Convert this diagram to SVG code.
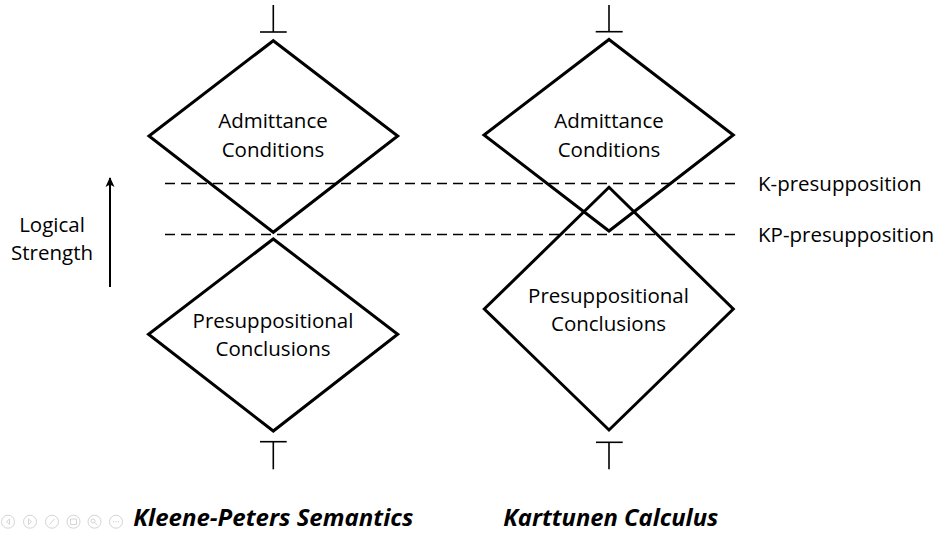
<svg xmlns="http://www.w3.org/2000/svg" width="936" height="541" viewBox="0 0 936 541">
<style>
.dia{fill:none;stroke:#000;stroke-width:3;stroke-linejoin:miter}
.sym{stroke:#000;stroke-width:1.6;fill:none}
.dash{stroke:#000;stroke-width:1.7;stroke-dasharray:10 6;fill:none}
.lbl{font-family:"Open Sans","Noto Sans",sans-serif;font-size:20.5px;fill:#000}
.mid{text-anchor:middle}
.ttl{font-family:"Open Sans","Noto Sans",sans-serif;font-size:24px;font-weight:bold;font-style:italic;fill:#000}
.ui{fill:none;stroke:#d4d4d4;stroke-width:1}
</style>
<defs>
<marker id="ah" markerWidth="10" markerHeight="10" viewBox="0 0 10 10" refX="9" refY="5" orient="auto" markerUnits="userSpaceOnUse">
<path d="M0,0.5 L10,5 L0,9.5 L2.5,5 Z" fill="#000"/>
</marker>
</defs>
<rect width="936" height="541" fill="#fff"/>

<g id="connectors">
<line class="dash" x1="165" y1="183.5" x2="740" y2="183.5"/>
<line class="dash" x1="165" y1="234.5" x2="740" y2="234.5"/>
<line x1="110" y1="287" x2="110" y2="178" stroke="#000" stroke-width="2" marker-end="url(#ah)"/>
</g>

<g id="left-bottom-sym">
<line class="sym" x1="273.3" y1="5" x2="273.3" y2="32"/>
<line class="sym" x1="260" y1="32" x2="286.7" y2="32"/>
</g>
<g id="left-admittance">
<polygon class="dia" points="273.3,40.7 397.7,136 273.3,232.3 149,136"/>
<text class="lbl mid" x="273" y="128.3">Admittance</text>
<text class="lbl mid" x="273" y="156.7">Conditions</text>
</g>
<g id="left-presuppositional">
<polygon class="dia" points="273.3,239 397.7,334.3 273.3,431 148.5,334.3"/>
<text class="lbl mid" x="273" y="327.7">Presuppositional</text>
<text class="lbl mid" x="273" y="356">Conclusions</text>
</g>
<g id="left-top-sym">
<line class="sym" x1="260" y1="441.7" x2="286.7" y2="441.7"/>
<line class="sym" x1="273.3" y1="441.7" x2="273.3" y2="469.3"/>
</g>

<g id="right-bottom-sym">
<line class="sym" x1="609" y1="5" x2="609" y2="31.7"/>
<line class="sym" x1="595.7" y1="31.7" x2="622.7" y2="31.7"/>
</g>
<g id="right-admittance">
<polygon class="dia" points="609,39.5 733.3,135 609,231 484,135"/>
<text class="lbl mid" x="609" y="128.3">Admittance</text>
<text class="lbl mid" x="609" y="156.7">Conditions</text>
</g>
<g id="right-presuppositional">
<polygon class="dia" points="609,187.3 733.3,309 609,430 484.3,309"/>
<text class="lbl mid" x="608.5" y="302.7">Presuppositional</text>
<text class="lbl mid" x="608.5" y="330.7">Conclusions</text>
</g>
<g id="right-top-sym">
<line class="sym" x1="596" y1="442.3" x2="622.7" y2="442.3"/>
<line class="sym" x1="609" y1="442.3" x2="609" y2="469.3"/>
</g>

<g id="line-labels">
<text class="lbl" x="758" y="191">K-presupposition</text>
<text class="lbl" x="758" y="241.5">KP-presupposition</text>
</g>
<g id="axis-label">
<text class="lbl mid" x="52" y="231.7">Logical</text>
<text class="lbl mid" x="52" y="260">Strength</text>
</g>
<g id="titles">
<text class="ttl" x="133.3" y="526" textLength="280" lengthAdjust="spacingAndGlyphs">Kleene-Peters Semantics</text>
<text class="ttl" x="503.3" y="526" textLength="215" lengthAdjust="spacingAndGlyphs">Karttunen Calculus</text>
</g>
<g id="ui-controls">
<circle class="ui" cx="8" cy="521.7" r="6.5"/>
<circle class="ui" cx="30" cy="521.7" r="6.5"/>
<circle class="ui" cx="52" cy="521.7" r="6.5"/>
<circle class="ui" cx="73.5" cy="521.7" r="6.5"/>
<circle class="ui" cx="94.5" cy="521.7" r="6.5"/>
<circle class="ui" cx="116" cy="521.7" r="6.5"/>
<path class="ui" d="M9.5,519 L6.5,521.7 L9.5,524.4 Z M28.5,519 L31.5,521.7 L28.5,524.4 Z M49.5,524.5 L54.5,519 M70.5,519 h6 v5.5 h-6 Z M93,521 m-2,0 a2,2 0 1,0 4,0 a2,2 0 1,0 -4,0 M94.5,522.5 L97.5,525"/>
<circle cx="113.5" cy="521.7" r="0.7" fill="#d4d4d4"/>
<circle cx="116" cy="521.7" r="0.7" fill="#d4d4d4"/>
<circle cx="118.5" cy="521.7" r="0.7" fill="#d4d4d4"/>
</g>
</svg>
